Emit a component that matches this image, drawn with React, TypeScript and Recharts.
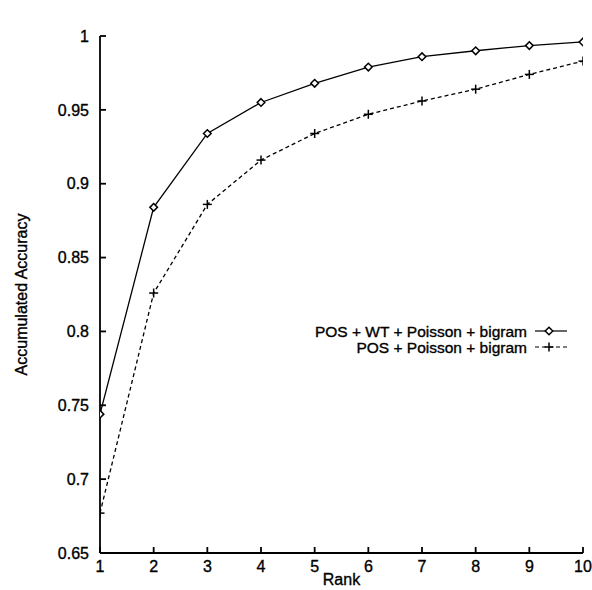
import React from 'react';
import { LineChart, Line, XAxis, YAxis, Legend } from 'recharts';

const ranks = [1, 2, 3, 4, 5, 6, 7, 8, 9, 10];
const posWtPoissonBigram = [0.744, 0.884, 0.934, 0.955, 0.968, 0.979, 0.986, 0.99, 0.9935, 0.996];
const posPoissonBigram = [0.677, 0.826, 0.886, 0.916, 0.934, 0.947, 0.956, 0.964, 0.974, 0.983];
const yTicks = [0.65, 0.7, 0.75, 0.8, 0.85, 0.9, 0.95, 1];
const seriesNames = ['POS + WT + Poisson + bigram', 'POS + Poisson + bigram'];
const seriesKeys = ['a', 'b'];
const chartTitle = 'Part of Speech Estimation Accuracy';
const xLabel = 'Rank';
const yLabel = 'Accumulated Accuracy';

const data = ranks.map((r, i) => ({
  rank: r,
  a: posWtPoissonBigram[i],
  b: posPoissonBigram[i],
}));

const FONT = '"Liberation Sans", Arial, Helvetica, sans-serif';
const TICK = 6;
const AX = 1.8;
const TXT = { fontFamily: FONT, fill: '#000', stroke: '#000', strokeWidth: 0.35 } as const;

const fmt = (v: number) => String(Number(v.toFixed(2)));

const LeftTick = (p: any) => (
  <g>
    <line x1={p.x} y1={p.y} x2={p.x + TICK} y2={p.y} stroke="#000" strokeWidth={AX} />
    <text x={p.x - 11} y={p.y} dy="0.36em" textAnchor="end" fontSize={16} {...TXT}>
      {fmt(p.payload.value)}
    </text>
  </g>
);
const RightTick = (p: any) => (
  <line x1={p.x} y1={p.y} x2={p.x - TICK} y2={p.y} stroke="#000" strokeWidth={AX} />
);
const BottomTick = (p: any) => (
  <g>
    <line x1={p.x} y1={p.y} x2={p.x} y2={p.y - TICK} stroke="#000" strokeWidth={AX} />
    <text x={p.x} y={p.y + 19} textAnchor="middle" fontSize={16} {...TXT}>
      {fmt(p.payload.value)}
    </text>
  </g>
);
const TopTick = (p: any) => (
  <line x1={p.x} y1={p.y} x2={p.x} y2={p.y + TICK} stroke="#000" strokeWidth={AX} />
);

const DiamondDot = (p: any) => {
  const { cx, cy } = p;
  if (cx == null || cy == null) return null;
  const s = 3.8;
  return (
    <polygon
      key={`d-${p.index}`}
      points={`${cx},${cy - s} ${cx + s},${cy} ${cx},${cy + s} ${cx - s},${cy}`}
      fill="#fff"
      stroke="#000"
      strokeWidth={1.5}
    />
  );
};
const PlusDot = (p: any) => {
  const { cx, cy } = p;
  if (cx == null || cy == null) return null;
  const s = 4.5;
  return (
    <g key={`p-${p.index}`}>
      <line x1={cx - s} y1={cy} x2={cx + s} y2={cy} stroke="#000" strokeWidth={1.5} />
      <line x1={cx} y1={cy - s} x2={cx} y2={cy + s} stroke="#000" strokeWidth={1.5} />
    </g>
  );
};

const LegendContent = (props: any) => {
  const payload = [...(props.payload || [])].sort(
    (p: any, q: any) => seriesKeys.indexOf(p.dataKey) - seriesKeys.indexOf(q.dataKey)
  );
  return (
    <svg width={592} height={40} style={{ display: 'block' }}>
      {payload.map((e: any, i: number) => {
        const y = 9 + i * 16;
        const dashed = e.dataKey === 'b';
        const mx = 549;
        return (
          <g key={i}>
            <text x={527} y={y} dy="0.36em" textAnchor="end" fontSize={15.5} {...TXT}>
              {e.value}
            </text>
            <line x1={535} x2={567} y1={y} y2={y} stroke="#000" strokeWidth={1.2} strokeDasharray={dashed ? '4 3' : undefined} />
            {dashed ? (
              <g>
                <line x1={mx - 4.5} x2={mx + 4.5} y1={y} y2={y} stroke="#000" strokeWidth={1.5} />
                <line x1={mx} x2={mx} y1={y - 4.5} y2={y + 4.5} stroke="#000" strokeWidth={1.5} />
              </g>
            ) : (
              <polygon points={`${mx},${y - 3.8} ${mx + 3.8},${y} ${mx},${y + 3.8} ${mx - 3.8},${y}`} fill="#fff" stroke="#000" strokeWidth={1.5} />
            )}
          </g>
        );
      })}
    </svg>
  );
};

export default function App() {
  return (
    <div style={{ position: 'absolute', left: 0, top: 0, fontFamily: FONT, background: '#fff' }}>
      <LineChart
        width={592}
        height={590}
        data={data}
        margin={{ top: 36, right: 9, bottom: 0, left: 40 }}
      >
        <XAxis
          dataKey="rank"
          type="number"
          domain={[1, 10]}
          ticks={ranks}
          allowDataOverflow
          height={37}
          tickSize={0}
          tickMargin={0}
          tickLine={false}
          axisLine={{ stroke: '#000', strokeWidth: AX }}
          tick={<BottomTick />}
          interval={0}
          label={{
            content: (lp: any) => {
              const vb = lp.viewBox;
              return (
                <text x={vb.x + vb.width / 2} y={vb.y + 32} textAnchor="middle" fontSize={16} {...TXT}>
                  {xLabel}
                </text>
              );
            },
          }}
        />
        <XAxis
          xAxisId="top"
          dataKey="rank"
          type="number"
          orientation="top"
          domain={[1, 10]}
          ticks={ranks}
          allowDataOverflow
          height={0}
          tickSize={0}
          tickMargin={0}
          tickLine={false}
          axisLine={{ stroke: '#000', strokeWidth: AX }}
          tick={<TopTick />}
          interval={0}
          label={{
            content: (lp: any) => {
              const vb = lp.viewBox;
              return (
                <text x={vb.x + vb.width / 2} y={25} textAnchor="middle" fontSize={16} {...TXT}>
                  {chartTitle}
                </text>
              );
            },
          }}
        />
        <YAxis
          type="number"
          domain={[0.65, 1]}
          ticks={yTicks}
          allowDataOverflow
          width={60}
          tickSize={0}
          tickMargin={0}
          tickLine={false}
          axisLine={{ stroke: '#000', strokeWidth: AX }}
          tick={<LeftTick />}
          interval={0}
          label={{
            content: (lp: any) => {
              const vb = lp.viewBox;
              const cy = vb.y + vb.height / 2;
              return (
                <text x={27} y={cy} textAnchor="middle" fontSize={16} {...TXT} transform={`rotate(-90, 27, ${cy})`}>
                  {yLabel}
                </text>
              );
            },
          }}
        />
        <YAxis
          yAxisId="right"
          orientation="right"
          type="number"
          domain={[0.65, 1]}
          ticks={yTicks}
          allowDataOverflow
          width={0}
          tickSize={0}
          tickMargin={0}
          tickLine={false}
          axisLine={{ stroke: '#000', strokeWidth: AX }}
          tick={<RightTick />}
          interval={0}
        />
        <Legend
          layout="horizontal"
          verticalAlign="middle"
          align="center"
          content={<LegendContent />}
          wrapperStyle={{ position: 'absolute', left: 0, top: 322, width: 592, height: 40 }}
        />
        <Line
          dataKey="a"
          name={seriesNames[0]}
          stroke="#000"
          strokeWidth={1.3}
          dot={<DiamondDot />}
          activeDot={false}
          isAnimationActive={false}
        />
        <Line
          dataKey="b"
          name={seriesNames[1]}
          stroke="#000"
          strokeWidth={1.3}
          strokeDasharray="4 3"
          dot={<PlusDot />}
          activeDot={false}
          isAnimationActive={false}
        />
      </LineChart>
    </div>
  );
}
